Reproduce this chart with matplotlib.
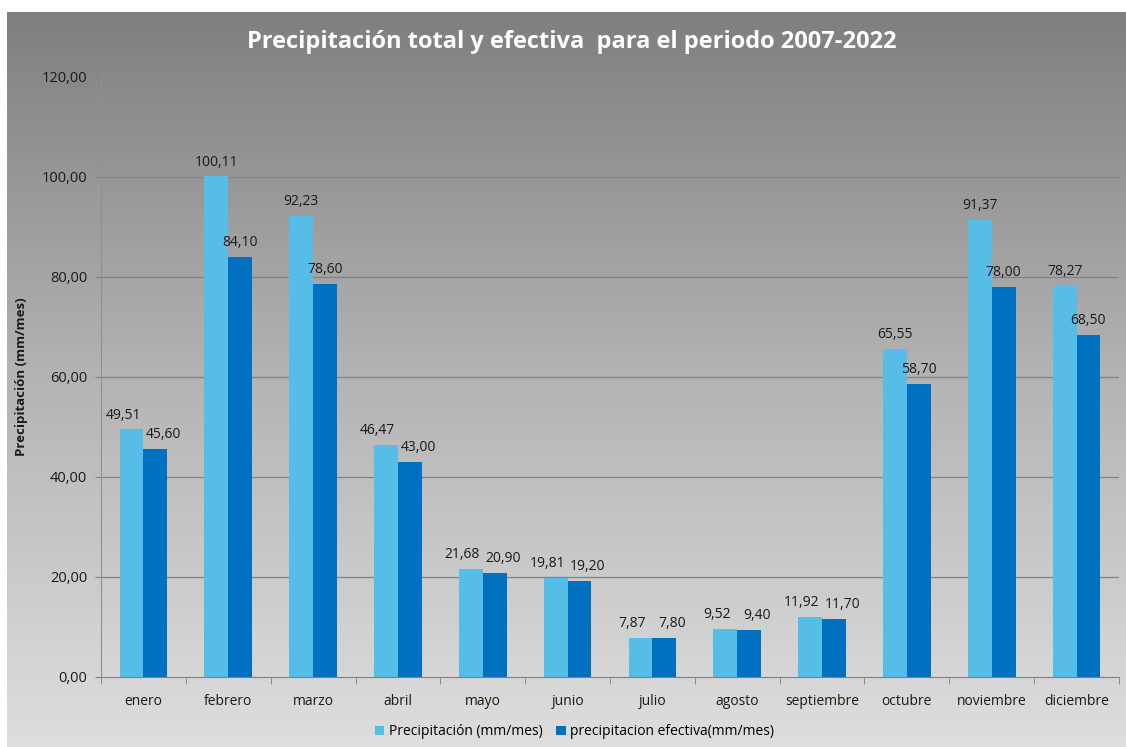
import numpy as np
import matplotlib.pyplot as plt
from matplotlib.colors import LinearSegmentedColormap

meses = ['enero', 'febrero', 'marzo', 'abril', 'mayo', 'junio', 'julio',
         'agosto', 'septiembre', 'octubre', 'noviembre', 'diciembre']
precip_total = [49.51, 100.11, 92.23, 46.47, 21.68, 19.81, 7.87, 9.52, 11.92, 65.55, 91.37, 78.27]
precip_efectiva = [45.60, 84.10, 78.60, 43.00, 20.90, 19.20, 7.80, 9.40, 11.70, 58.70, 78.00, 68.50]
y_ticks = [0, 20, 40, 60, 80, 100, 120]

plt.rcParams['font.family'] = ['Open Sans', 'DejaVu Sans']

fig = plt.figure(figsize=(11.26, 7.47), dpi=100)
fig.patch.set_facecolor('white')

# fondo degradado gris del grafico
bg = fig.add_axes([7/1126, 0, 1 - 7/1126, 1 - 12/747], zorder=0)
grad = np.linspace(0, 1, 256).reshape(-1, 1)
cmap = LinearSegmentedColormap.from_list('g', ['#7f7f7f', '#b4b4b4', '#dedede'])
bg.imshow(grad, aspect='auto', cmap=cmap, extent=[0, 1, 0, 1], origin='upper')
bg.axis('off')

ax = fig.add_axes([101/1126, 1 - 677/747, 1018/1126, 600/747], zorder=1)
ax.patch.set_alpha(0)

x = np.arange(len(meses))
w = 0.28
b1 = ax.bar(x - w/2, precip_total, w, color='#55bde6', label='Precipitación (mm/mes)', zorder=2)
b2 = ax.bar(x + w/2, precip_efectiva, w, color='#0070c0', label='precipitacion efectiva(mm/mes)', zorder=2)

# etiquetas: se separan a los lados cuando los valores son parecidos
for r1, r2, v1, v2 in zip(b1, b2, precip_total, precip_efectiva):
    dx = 6 if abs(v1 - v2) < 6 else 0
    for r, v, s in ((r1, v1, -1), (r2, v2, 1)):
        ax.annotate(f'{v:.2f}'.replace('.', ','), (r.get_x() + r.get_width()/2, v),
                    xytext=(s * dx, 5), textcoords='offset points', ha='center', va='bottom',
                    fontsize=10, color='#1a1a1a')

ax.set_xlim(-0.5, len(meses) - 0.5)
ax.set_ylim(0, 120)
ax.set_yticks(y_ticks)
ax.set_yticklabels([f'{t:.2f}'.replace('.', ',') for t in y_ticks], fontsize=10.5, color='#1a1a1a')
ax.set_xticks(x)
ax.set_xticklabels(meses, fontsize=10, color='#1a1a1a')
ax.set_xticks(np.arange(-0.5, len(meses)), minor=True)
ax.tick_params(axis='x', which='major', length=0, pad=12)
ax.tick_params(axis='x', which='minor', length=5, color='#808080')
ax.tick_params(axis='y', length=4, color='#808080', pad=6)

for t in y_ticks[1:-1]:
    ax.axhline(t, color='#828282', lw=0.9, zorder=1)

for s in ['top', 'right']:
    ax.spines[s].set_visible(False)
ax.spines['left'].set_color('#909090')
ax.spines['bottom'].set_color('#808080')

ax.set_ylabel('Precipitación (mm/mes)', fontsize=9.5, fontweight='bold', color='#1a1a1a', labelpad=10)

fig.text(0.508, 1 - 42/747, 'Precipitación total y efectiva  para el periodo 2007-2022',
         ha='center', va='center', fontsize=17, fontweight='bold', color='white')

ax.legend(loc='upper center', bbox_to_anchor=(0.465, -0.058), ncol=2, frameon=False,
          fontsize=10, handlelength=0.7, handleheight=0.7, handletextpad=0.3, columnspacing=1.0)

fig.savefig('out.png', dpi=100)
